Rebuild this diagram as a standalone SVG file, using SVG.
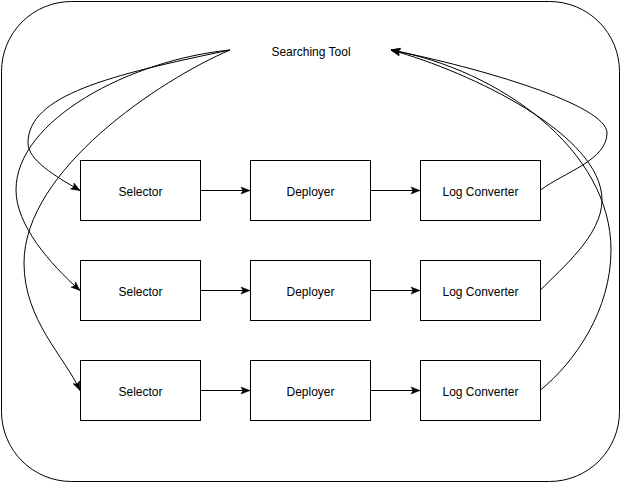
<svg xmlns="http://www.w3.org/2000/svg" width="621" height="490" viewBox="0 0 621 490">
<style>
.box{fill:#fff;stroke:#000;stroke-width:1}
.lbl{font-family:"Liberation Sans",Arial,sans-serif;font-size:12px;fill:#000;text-anchor:middle}
.edge{fill:none;stroke:#000;stroke-width:1}
</style>
<defs>
<marker id="arr" markerUnits="userSpaceOnUse" markerWidth="10" markerHeight="8" refX="9" refY="4" orient="auto" overflow="visible">
<path d="M0,0.5 L9,4 L0,7.5 L2,4 Z" fill="#000" stroke="#000" stroke-width="0.5"/>
</marker>
</defs>
<rect id="container" x="1.5" y="1.5" width="618" height="480" rx="70" ry="70" fill="#fff" stroke="#000" stroke-width="1"/>
<g id="searching-tool"><text class="lbl" x="311" y="56">Searching Tool</text></g>
<g id="selector-1"><rect class="box" x="80.5" y="160.5" width="120" height="60"/><text class="lbl" x="140.5" y="196">Selector</text></g>
<g id="deployer-1"><rect class="box" x="250.5" y="160.5" width="120" height="60"/><text class="lbl" x="310.5" y="196">Deployer</text></g>
<g id="logconv-1"><rect class="box" x="420.5" y="160.5" width="120" height="60"/><text class="lbl" x="480.5" y="196">Log Converter</text></g>
<g id="selector-2"><rect class="box" x="80.5" y="260.5" width="120" height="60"/><text class="lbl" x="140.5" y="296">Selector</text></g>
<g id="deployer-2"><rect class="box" x="250.5" y="260.5" width="120" height="60"/><text class="lbl" x="310.5" y="296">Deployer</text></g>
<g id="logconv-2"><rect class="box" x="420.5" y="260.5" width="120" height="60"/><text class="lbl" x="480.5" y="296">Log Converter</text></g>
<g id="selector-3"><rect class="box" x="80.5" y="360.5" width="120" height="60"/><text class="lbl" x="140.5" y="396">Selector</text></g>
<g id="deployer-3"><rect class="box" x="250.5" y="360.5" width="120" height="60"/><text class="lbl" x="310.5" y="396">Deployer</text></g>
<g id="logconv-3"><rect class="box" x="420.5" y="360.5" width="120" height="60"/><text class="lbl" x="480.5" y="396">Log Converter</text></g>
<g id="connectors" class="edges">
<path class="edge" marker-end="url(#arr)" d="M200.5,190.5 L250,190.5"/>
<path class="edge" marker-end="url(#arr)" d="M370.5,190.5 L420,190.5"/>
<path class="edge" marker-end="url(#arr)" d="M200.5,290.5 L250,290.5"/>
<path class="edge" marker-end="url(#arr)" d="M370.5,290.5 L420,290.5"/>
<path class="edge" marker-end="url(#arr)" d="M200.5,390.5 L250,390.5"/>
<path class="edge" marker-end="url(#arr)" d="M370.5,390.5 L420,390.5"/>
<path class="edge" marker-end="url(#arr)" d="M230,50 C110,75 28,95 28,143 C28,160 55,176 80,190.5"/>
<path class="edge" marker-end="url(#arr)" d="M230,50 C130,60 16,120 16,190 C16,225 50,264 80,290.5"/>
<path class="edge" marker-end="url(#arr)" d="M230,50 C160,80 24,170 24,263 C24,320 65,357 80,390.5"/>
<path class="edge" marker-end="url(#arr)" d="M540.5,190 C565,172 607,160 607,133 C607,105 481,68 391,50"/>
<path class="edge" marker-end="url(#arr)" d="M540.5,290 C562,268 602,235 602,200 C602,135 471,72 391,50"/>
<path class="edge" marker-end="url(#arr)" d="M540.5,390 C575,362 611,310 611,250 C611,150 500,70 391,50"/>
</g>
</svg>
